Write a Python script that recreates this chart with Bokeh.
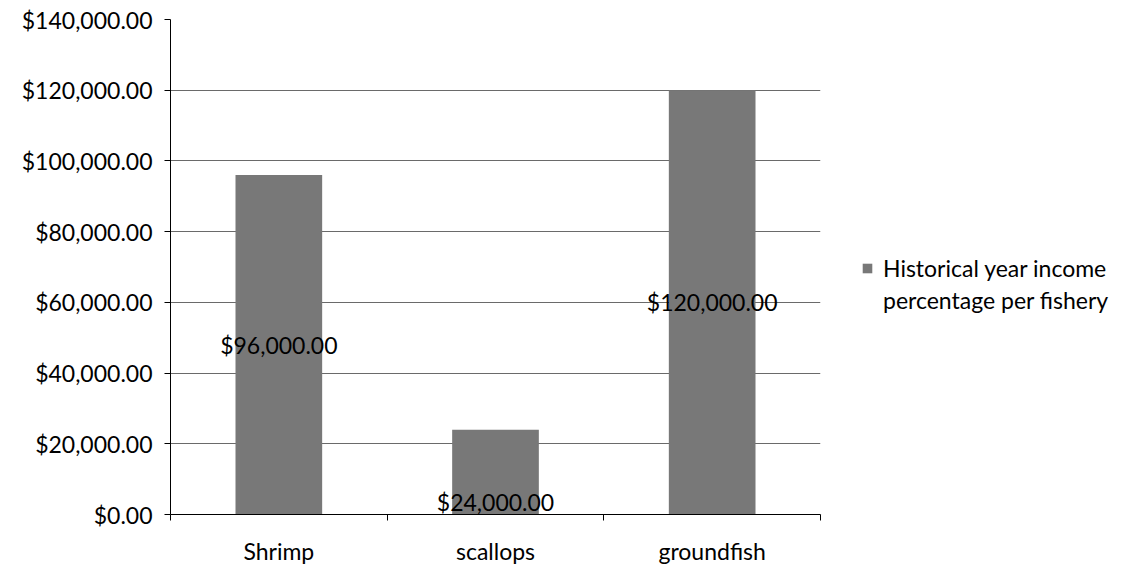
from bokeh.plotting import figure
from bokeh.layouts import row
from bokeh.models import (Range1d, FixedTicker, NumeralTickFormatter, ColumnDataSource,
                          Legend, LegendItem)
from bokeh.core.properties import value
from bokeh.embed import file_html
from bokeh.resources import INLINE

categories = ["Shrimp", "scallops", "groundfish"]
income = [96000, 24000, 120000]
label_texts = ["$96,000.00", "$24,000.00", "$120,000.00"]
label_shift = [0, 30, 0]
y_ticks = [0, 20000, 40000, 60000, 80000, 100000, 120000, 140000]
series_name_lines = ["Historical year income", "percentage per fishery"]

FONT = "Lato"
FS = "23px"
BAR = "#787878"
xs = [i + 0.5 for i in range(len(categories))]
src = ColumnDataSource(dict(x=xs, top=income, mid=[v / 2 for v in income],
                            txt=label_texts, shift=label_shift))

p = figure(width=821, height=567, output_backend="svg", toolbar_location=None,
           x_range=Range1d(0, len(categories)), y_range=Range1d(0, 140000),
           min_border_left=170, min_border_right=1, min_border_top=19, min_border_bottom=52)
p.outline_line_color = None
p.background_fill_color = "white"
p.border_fill_color = "white"

p.vbar(x="x", top="top", width=0.4, source=src, fill_color=BAR, line_color=None)
p.text(x="x", y="mid", text="txt", source=src, y_offset="shift", text_align="center",
       text_baseline="middle", text_font=value(FONT), text_font_size=FS, text_color="black")

# axes
p.yaxis.ticker = FixedTicker(ticks=y_ticks, minor_ticks=[])
p.yaxis.formatter = NumeralTickFormatter(format="$0,0.00")
p.yaxis.axis_line_color = "black"
p.yaxis.major_tick_line_color = "black"
p.yaxis.major_tick_out = 6
p.yaxis.major_tick_in = 0
p.yaxis.minor_tick_line_color = None
p.yaxis.major_label_text_font = FONT
p.yaxis.major_label_text_font_size = FS
p.yaxis.major_label_text_color = "black"
p.yaxis.major_label_standoff = 12

p.xaxis.ticker = FixedTicker(ticks=xs, minor_ticks=list(range(len(categories) + 1)))
p.xaxis.major_label_overrides = {x: c for x, c in zip(xs, categories)}
p.xaxis.axis_line_color = "black"
p.xaxis.major_tick_line_color = None
p.xaxis.major_tick_out = 6
p.xaxis.minor_tick_line_color = "black"
p.xaxis.minor_tick_out = 6
p.xaxis.minor_tick_in = 0
p.xaxis.major_label_text_font = FONT
p.xaxis.major_label_text_font_size = FS
p.xaxis.major_label_text_color = "black"
p.xaxis.major_label_standoff = 16

p.xgrid.grid_line_color = None
p.ygrid.grid_line_color = "#6a6a6a"
p.ygrid.grid_line_width = 1

# legend panel (swatch renderer sits outside the visible range; only its legend glyph shows)
lf = figure(width=308, height=567, output_backend="svg", toolbar_location=None,
            x_range=Range1d(0, 1), y_range=Range1d(0, 1),
            x_axis_location=None, y_axis_location=None, min_border=0)
lf.outline_line_color = None
lf.xgrid.grid_line_color = None
lf.ygrid.grid_line_color = None
swatch = lf.vbar(x=[-5], top=[-5], width=0.4, fill_color=BAR, line_color=None)
blank = lf.vbar(x=[-5], top=[-5], width=0.4, fill_alpha=0, line_alpha=0)
legend = Legend(items=[LegendItem(label=series_name_lines[0], renderers=[swatch]),
                       LegendItem(label=series_name_lines[1], renderers=[blank])],
                location=(40, 200), orientation="vertical",
                label_text_font=FONT, label_text_font_size=FS, label_text_color="black",
                glyph_width=12, glyph_height=12, label_standoff=10, spacing=4,
                padding=0, margin=0, border_line_color=None, background_fill_alpha=0,
                label_height=24)
lf.add_layout(legend)

layout = row(p, lf)
open("out.html", "w").write(file_html(layout, INLINE))
